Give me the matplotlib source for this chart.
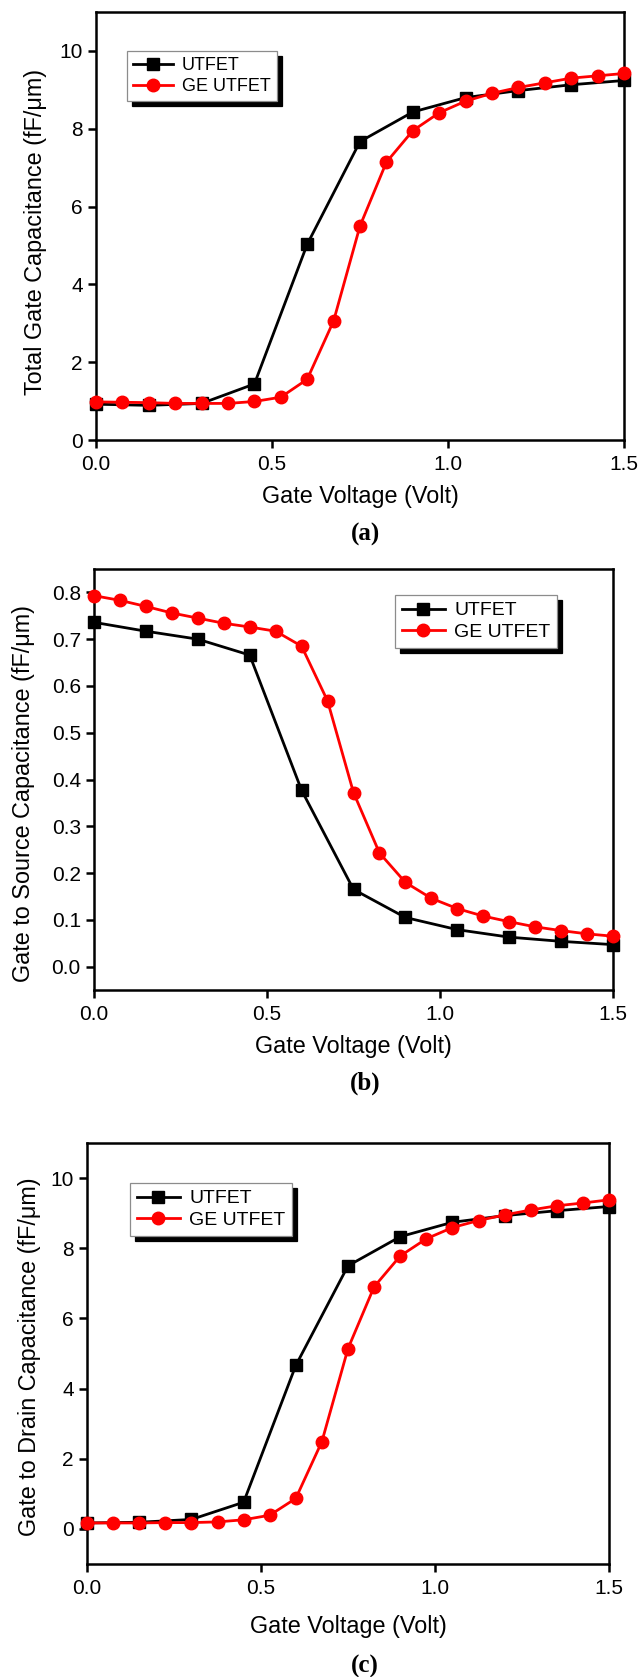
import matplotlib
matplotlib.use('Agg')
import matplotlib.pyplot as plt

plt.rcParams['font.family'] = ['Liberation Sans', 'DejaVu Sans']
TICKFS = 15
plt.rcParams['xtick.labelsize'] = TICKFS
plt.rcParams['ytick.labelsize'] = TICKFS

# ---------------- data ----------------
x_utfet = [0.0, 0.15, 0.30, 0.45, 0.60, 0.75, 0.90, 1.05, 1.20, 1.35, 1.50]
x_ge = [0.0, 0.075, 0.15, 0.225, 0.30, 0.375, 0.45, 0.525, 0.60, 0.675, 0.75,
        0.825, 0.90, 0.975, 1.05, 1.125, 1.20, 1.275, 1.35, 1.425, 1.50]

cgg_utfet = [0.92, 0.89, 0.94, 1.44, 5.03, 7.67, 8.43, 8.80, 8.98, 9.13, 9.24]
cgg_ge = [0.98, 0.97, 0.96, 0.94, 0.94, 0.94, 0.99, 1.10, 1.56, 3.06, 5.50,
          7.14, 7.95, 8.41, 8.71, 8.91, 9.06, 9.18, 9.30, 9.36, 9.42]

cgs_utfet = [0.736, 0.717, 0.700, 0.666, 0.377, 0.165, 0.105, 0.079, 0.063, 0.054, 0.047]
cgs_ge = [0.793, 0.783, 0.770, 0.756, 0.745, 0.734, 0.726, 0.717, 0.685, 0.568, 0.372,
          0.243, 0.180, 0.146, 0.124, 0.108, 0.096, 0.085, 0.077, 0.070, 0.065]

cgd_utfet = [0.17, 0.19, 0.27, 0.76, 4.66, 7.50, 8.33, 8.74, 8.93, 9.07, 9.19]
cgd_ge = [0.17, 0.17, 0.17, 0.18, 0.18, 0.20, 0.26, 0.39, 0.87, 2.49, 5.14,
          6.90, 7.78, 8.27, 8.59, 8.79, 8.95, 9.09, 9.21, 9.29, 9.38]

series_names = ['UTFET', 'GE UTFET']
x_ticks = [0.0, 0.5, 1.0, 1.5]
x_label = 'Gate Voltage (Volt)'
y_labels = ['Total Gate Capacitance (fF/\u03bcm)',
            'Gate to Source Capacitance (fF/\u03bcm)',
            'Gate to Drain Capacitance (fF/\u03bcm)']
panel_tags = ['(a)', '(b)', '(c)']

# ---------------- layout (pixels) ----------------
W, H = 639, 1677
fig = plt.figure(figsize=(W / 100, H / 100), dpi=100)


def fx(px):
    return px / W


def fy(py):
    return 1 - py / H


panels = [
    dict(box=(96, 624, 12, 440), ylim=(0, 11), yticks=[0, 2, 4, 6, 8, 10], yfmt='{:.0f}',
         data=(cgg_utfet, cgg_ge), leg=(127, 51), legfs=13, ylx=36, yly=232,
         xly=497, tagy=534),
    dict(box=(94, 613, 569, 990), ylim=(-0.05, 0.85),
         yticks=[0.0, 0.1, 0.2, 0.3, 0.4, 0.5, 0.6, 0.7, 0.8], yfmt='{:.1f}',
         data=(cgs_utfet, cgs_ge), leg=(395, 595), legfs=14, ylx=24, yly=794,
         xly=1046, tagy=1083),
    dict(box=(87, 609, 1143, 1564), ylim=(-1, 11), yticks=[0, 2, 4, 6, 8, 10], yfmt='{:.0f}',
         data=(cgd_utfet, cgd_ge), leg=(130, 1183), legfs=14, ylx=30, yly=1357,
         xly=1627, tagy=1666),
]

for i, p in enumerate(panels):
    L, R, T, B = p['box']
    ax = fig.add_axes([fx(L), fy(B), fx(R - L), (B - T) / H])
    yu, yg = p['data']
    ax.plot(x_utfet, yu, color='black', lw=2.0, marker='s', ms=8.5,
            label=series_names[0], clip_on=False, zorder=3)
    ax.plot(x_ge, yg, color='#ff0000', lw=2.0, marker='o', ms=9,
            label=series_names[1], clip_on=False, zorder=4)
    ax.set_xlim(0, 1.5)
    ax.set_ylim(*p['ylim'])
    ax.set_xticks(x_ticks)
    ax.set_xticklabels(['{:.1f}'.format(v) for v in x_ticks])
    ax.set_yticks(p['yticks'])
    ax.set_yticklabels([p['yfmt'].format(v) for v in p['yticks']])
    ax.tick_params(direction='out', length=6, width=1.8, pad=3.5, labelsize=TICKFS,
                   top=False, right=False)
    ax.tick_params(axis='x', pad=5)
    for s in ax.spines.values():
        s.set_linewidth(1.8)

    fig.text(fx((L + R) / 2), fy(p['xly']), x_label, ha='center', va='center',
             fontsize=16.8)
    fig.text(fx(p['ylx']), fy(p['yly']), y_labels[i], ha='center', va='center',
             rotation=90, fontsize=16.8)
    fig.text(fx(365), fy(p['tagy']), panel_tags[i], ha='center', va='center',
             fontsize=18, fontweight='bold', family=['Liberation Serif', 'DejaVu Serif'])

    leg = ax.legend(loc='upper left', bbox_to_anchor=(fx(p['leg'][0]), fy(p['leg'][1])),
                    bbox_transform=fig.transFigure, borderaxespad=0,
                    fontsize=p['legfs'], frameon=True, fancybox=False, framealpha=1,
                    edgecolor='#8c8c8c', handlelength=2.2, handletextpad=0.5,
                    labelspacing=0.2, borderpad=0.35,
                    shadow={'ox': 3.6, 'oy': -3.6, 'color': 'black', 'alpha': 1})
    leg.get_frame().set_linewidth(0.9)

fig.savefig('out.png', dpi=100)
